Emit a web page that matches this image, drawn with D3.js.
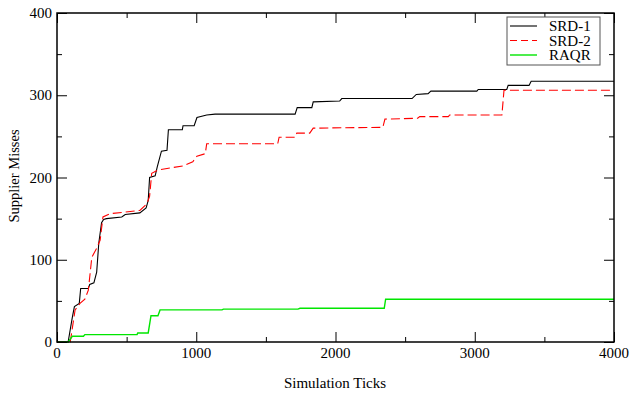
<!DOCTYPE html>
<html>
<head>
<meta charset="utf-8">
<script src="https://cdn.jsdelivr.net/npm/d3@7"></script>
<style>
  html, body { margin: 0; padding: 0; background: #fff; }
</style>
</head>
<body>
<div id="chart"></div>
<script>
// step-shaped series: [tick, misses] pairs
const srd1 = [
  [0, 0], [80, 0], [110, 30], [125, 43], [160, 47], [170, 65], [225, 65], [235, 70],
  [265, 72], [285, 85], [300, 120], [320, 145], [335, 149], [355, 150], [465, 152],
  [490, 155], [595, 157], [640, 163], [655, 172], [665, 200], [705, 202], [720, 213],
  [750, 232], [790, 233], [800, 258], [900, 258], [905, 263], [985, 263], [1005, 273],
  [1075, 276], [1135, 277], [1710, 277], [1725, 285], [1830, 285], [1840, 292],
  [2030, 293], [2045, 296], [2550, 296], [2580, 301], [2665, 302], [2685, 305],
  [3015, 305], [3025, 307], [3230, 307], [3240, 312], [3390, 312], [3405, 317], [4000, 317]
];
const srd2 = [
  [0, 0], [95, 0], [130, 39], [165, 47], [200, 52], [225, 63], [250, 103], [285, 114],
  [310, 124], [330, 152], [380, 156], [490, 158], [595, 160], [645, 168], [665, 177],
  [680, 205], [725, 209], [790, 211], [905, 214], [975, 219], [1005, 226], [1065, 229],
  [1075, 241], [1585, 241], [1595, 249], [1710, 249], [1722, 254], [1815, 254],
  [1840, 260], [2340, 261], [2355, 271], [2590, 272], [2605, 274], [2810, 274],
  [2820, 276], [3195, 276], [3210, 306], [4000, 306]
];
const raqr = [
  [0, 0], [80, 0], [110, 7], [190, 7], [200, 9], [575, 9], [580, 11], [655, 11],
  [675, 32], [725, 32], [740, 39], [1185, 39], [1195, 40], [1730, 40], [1745, 41],
  [2350, 41], [2360, 52], [4000, 52]
];
const seriesNames = ['SRD-1', 'SRD-2', 'RAQR'];
const xTicks = [0, 1000, 2000, 3000, 4000];
const yTicks = [0, 100, 200, 300, 400];

const FONT = 'Liberation Serif';
const W = 631, H = 394;
const m = { top: 13, right: 17, bottom: 52, left: 57 };
const w = W - m.left - m.right, h = H - m.top - m.bottom;

const svg = d3.select('#chart').append('svg')
  .attr('width', W).attr('height', H)
  .attr('font-family', FONT);
const g = svg.append('g').attr('transform', `translate(${m.left},${m.top})`);

const x = d3.scaleLinear().domain([0, 4000]).range([0, w]);
const y = d3.scaleLinear().domain([0, 400]).range([h, 0]);

const line = d3.line().x(d => x(d[0])).y(d => y(d[1]));

const styles = [
  { color: '#000000', dash: null, width: 1.1 },
  { color: '#ff0000', dash: '9,4', width: 1.1 },
  { color: '#00e600', dash: null, width: 1.4 }
];

[srd1, srd2, raqr].forEach((s, i) => {
  g.append('path')
    .datum(s)
    .attr('fill', 'none')
    .attr('stroke', styles[i].color)
    .attr('stroke-width', styles[i].width)
    .attr('stroke-dasharray', styles[i].dash)
    .attr('d', line);
});

// axes: inward ticks on all four sides, minor ticks between
const xMinor = d3.range(500, 4000, 1000);
const yMinor = d3.range(50, 400, 100);

function tickAxis(axisFn, scale, major, minor, transform) {
  const a = g.append('g').attr('transform', transform);
  a.call(axisFn(scale).tickValues(major).tickSize(-10).tickFormat(''));
  a.call(ax => ax.select('.domain').remove());
  const b = g.append('g').attr('transform', transform);
  b.call(axisFn(scale).tickValues(minor).tickSize(-5).tickFormat(''));
  b.call(ax => ax.select('.domain').remove());
}
tickAxis(d3.axisBottom, x, xTicks, xMinor, `translate(0,${h})`);
tickAxis(d3.axisTop, x, xTicks, xMinor, 'translate(0,0)');
tickAxis(d3.axisLeft, y, yTicks, yMinor, 'translate(0,0)');
tickAxis(d3.axisRight, y, yTicks, yMinor, `translate(${w},0)`);
g.selectAll('.tick line').attr('stroke', '#000').attr('stroke-width', 1);

// tick labels
g.selectAll('.xlab').data(xTicks).enter().append('text')
  .attr('x', d => x(d)).attr('y', h + 16)
  .attr('text-anchor', 'middle').attr('font-size', 15)
  .attr('font-family', FONT)
  .text(d => d);
g.selectAll('.ylab').data(yTicks).enter().append('text')
  .attr('x', -5).attr('y', d => y(d) + 5)
  .attr('text-anchor', 'end').attr('font-size', 15)
  .attr('font-family', FONT)
  .text(d => d);

// frame
g.append('rect')
  .attr('width', w).attr('height', h)
  .attr('fill', 'none').attr('stroke', '#000').attr('stroke-width', 1.5);

// axis titles
svg.append('text')
  .attr('x', 335).attr('y', 388)
  .attr('text-anchor', 'middle').attr('font-size', 15)
  .attr('font-family', FONT)
  .text('Simulation Ticks');
svg.append('text')
  .attr('transform', `translate(19,176) rotate(-90)`)
  .attr('text-anchor', 'middle').attr('font-size', 14.5)
  .attr('font-family', FONT)
  .text('Supplier Misses');

// legend
const lg = svg.append('g').attr('transform', 'translate(507,17)');
lg.append('rect').attr('width', 93).attr('height', 48)
  .attr('fill', '#fff').attr('stroke', '#555').attr('stroke-width', 1);
seriesNames.forEach((name, i) => {
  const yy = 9 + i * 14.5;
  lg.append('line')
    .attr('x1', 3).attr('x2', 30).attr('y1', yy).attr('y2', yy)
    .attr('stroke', styles[i].color).attr('stroke-width', styles[i].width)
    .attr('stroke-dasharray', i === 1 ? '7,4' : null);
  lg.append('text').attr('x', 42).attr('y', yy + 5)
    .attr('font-size', 15).attr('font-family', FONT).text(name);
});
</script>
</body>
</html>
